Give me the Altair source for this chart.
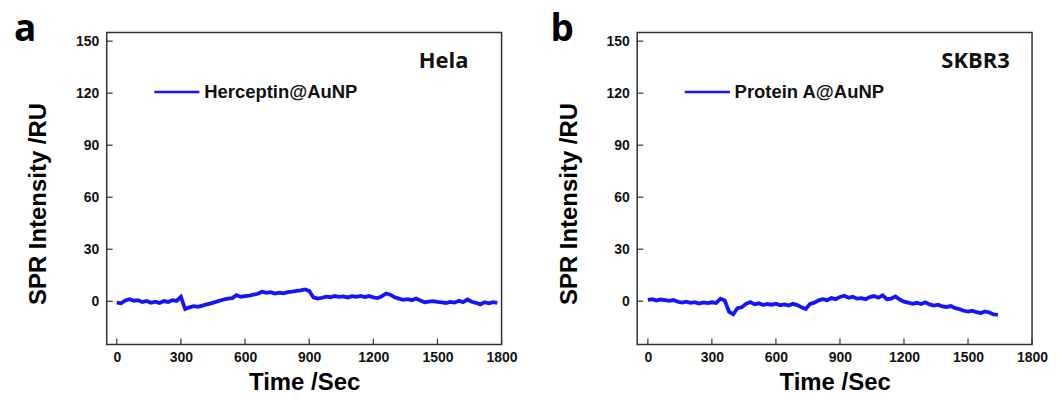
import altair as alt
import pandas as pd

# ---- data ----
hela_time = list(range(0, 1781, 20))
hela_spr = [-0.8, -1.2, 0.5, 1.2, 0.3, 0.6, -0.5, 0.2, -0.9, -0.3,
            -1.0, 0.1, -0.4, 0.6, 0.2, 2.5, -4.5, -3.5, -2.8, -3.2,
            -2.5, -1.8, -1.2, -0.5, 0.3, 1.0, 1.5, 1.8, 3.5, 2.6,
            2.9, 3.2, 3.8, 4.3, 5.5, 4.8, 5.2, 4.4, 5.0, 4.6,
            5.3, 5.6, 6.0, 6.3, 6.8, 6.0, 2.2, 1.5, 2.0, 2.6,
            2.3, 3.0, 2.5, 2.8, 2.2, 2.9, 2.6, 3.1, 2.4, 3.0,
            2.2, 1.8, 2.9, 4.5, 3.8, 2.3, 1.5, 0.8, 1.2, 0.6,
            1.6, 0.4, -0.6, -0.2, 0.1, -0.3, -0.6, -1.0, -0.4, -0.8,
            0.3, -0.5, 1.0, -0.3, -0.9, -1.8, -0.6, -1.2, -0.5, -0.9]

skbr3_time = list(range(0, 1641, 20))
skbr3_spr = [0.8, 1.2, 0.4, 1.0, 0.6, 0.2, 0.7, -0.3, -0.8, -0.2,
             -0.9, -0.5, -1.3, -0.7, -1.1, -0.6, -1.0, 1.5, 0.5, -6.0,
             -7.5, -4.0, -3.5, -1.5, -0.5, -1.8, -1.2, -2.2, -1.6, -2.0,
             -1.4, -2.3, -1.8, -2.5, -1.5, -2.2, -3.5, -4.5, -1.5, -0.8,
             0.5, 1.2, 0.6, 1.8, 1.2, 2.5, 3.2, 2.0, 2.6, 1.5,
             1.8, 1.2, 2.4, 3.0, 2.0, 3.4, 1.2, 1.5, 2.8, 1.0,
             -0.2, -0.8, -1.5, -0.9, -1.6, -0.6, -1.8, -2.5, -2.0, -3.0,
             -3.3, -2.8, -4.0, -4.5, -5.5, -6.0, -5.4, -6.3, -6.8, -5.9,
             -6.5, -7.6, -7.8]

x_ticks = [0, 300, 600, 900, 1200, 1500, 1800]
y_ticks = [0, 30, 60, 90, 120, 150]

W, H = 396, 313
LINE = "#1414ff"
FRAME = "#333333"


def panel(times, values, xmin, letter, cell, legend_label, letter_x, cell_x):
    df = pd.DataFrame({"t": times, "v": values})
    one = pd.DataFrame({"k": [0]})
    xs = alt.Scale(domain=[xmin, 1800], nice=False, zero=False)
    ys = alt.Scale(domain=[-25, 155], nice=False, zero=False)

    line = alt.Chart(df).mark_line(color=LINE, strokeWidth=3.8).encode(
        x=alt.X("t:Q", scale=xs,
                axis=alt.Axis(values=x_ticks, format="d", title="Time /Sec",
                              titleX=W / 2, titleY=45, titleBaseline="alphabetic",
                              labelPadding=6, labelFlush=False)),
        y=alt.Y("v:Q", scale=ys,
                axis=alt.Axis(values=y_ticks, format="d", title="SPR Intensity /RU",
                              titleX=-61, titleY=171.5, titleBaseline="alphabetic",
                              titleAlign="center", labelPadding=8, labelFlush=False)),
    )

    xt = alt.Chart(pd.DataFrame({"t": x_ticks})).mark_rule(
        color=FRAME, strokeWidth=1.2).encode(
        x=alt.X("t:Q", scale=xs), y=alt.value(H), y2=alt.value(H - 6))
    yt = alt.Chart(pd.DataFrame({"v": y_ticks})).mark_rule(
        color=FRAME, strokeWidth=1.2).encode(
        y=alt.Y("v:Q", scale=ys), x=alt.value(0), x2=alt.value(6))

    leg_line = alt.Chart(one).mark_rule(color=LINE, strokeWidth=2.5).encode(
        x=alt.value(47.7), x2=alt.value(93), y=alt.value(59.7))
    leg_text = alt.Chart(one).mark_text(
        font="Liberation Sans", fontWeight="bold", fontSize=18.5, color="#111111",
        align="left", baseline="alphabetic").encode(
        x=alt.value(97.7), y=alt.value(65.7), text=alt.value(legend_label))
    cell_text = alt.Chart(one).mark_text(
        font="Open Sans", fontWeight="bold", fontSize=22, color="#111111",
        align="left", baseline="alphabetic").encode(
        x=alt.value(cell_x), y=alt.value(36), text=alt.value(cell))
    letter_text = alt.Chart(one).mark_text(
        font="Open Sans", fontWeight="bold", fontSize=37, color="#000000",
        align="left", baseline="alphabetic").encode(
        x=alt.value(letter_x), y=alt.value(9), text=alt.value(letter))

    return alt.layer(line, xt, yt, leg_line, leg_text, cell_text, letter_text).properties(
        width=W, height=H)


left = panel(hela_time, hela_spr, -47, "a", "Hela", "Herceptin@AuNP", -93, 313)
right = panel(skbr3_time, skbr3_spr, -50, "b", "SKBR3", "Protein A@AuNP", -87, 305)

chart = alt.hconcat(left, right, spacing=31).properties(
    padding={"left": 5, "top": 2, "right": 0, "bottom": 0}
).configure_view(
    stroke=FRAME, strokeWidth=1.5
).configure_axis(
    grid=False, domain=False, ticks=False,
    labelFont="Liberation Sans", labelFontWeight="bold", labelFontSize=14,
    labelColor="#111111",
    titleFont="Liberation Sans", titleFontWeight="bold", titleFontSize=24,
    titleColor="#000000",
)

chart.save("out.html", embed_options={"renderer": "svg", "actions": False})
